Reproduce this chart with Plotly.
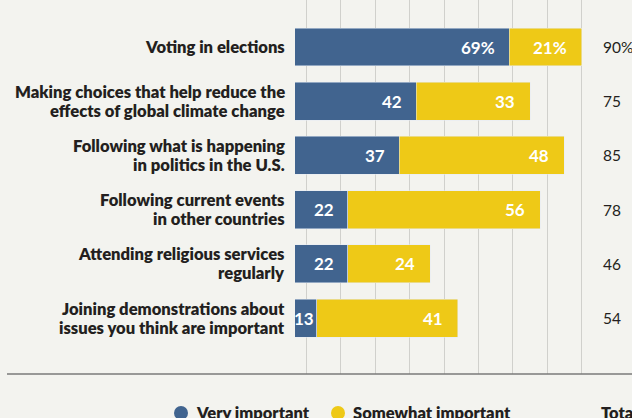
import plotly.graph_objects as go

categories = [
    "Voting in elections",
    "Making choices that help reduce the<br>effects of global climate change",
    "Following what is happening<br>in politics in the U.S.",
    "Following current events<br>in other countries",
    "Attending religious services<br>regularly",
    "Joining demonstrations about<br>issues you think are important",
]
very_important = [69, 42, 37, 22, 22, 13]
somewhat_important = [21, 33, 48, 56, 24, 41]
totals = [90, 75, 85, 78, 46, 54]
grid_ticks = [10, 20, 30, 40, 50, 60, 70, 80, 90]
series_names = ["Very important", "Somewhat important"]

BLUE = "#41648f"
YELLOW = "#eec917"
BG = "#f3f3ef"
TEXT = "#231f20"
FONT = "Lato"

ypos = list(range(len(categories)))
PLOT_L, PLOT_W, PLOT_H = 295, 337, 374
LINE_GAP = 19


def px_x(px):
    return (px - PLOT_L) / PLOT_W


def px_y(py):
    return (PLOT_H - py) / PLOT_H


fig = go.Figure()
fig.add_trace(go.Bar(y=ypos, x=very_important, orientation="h", marker_color=BLUE,
                     width=0.7, name=series_names[0], showlegend=False, hoverinfo="skip"))
fig.add_trace(go.Bar(y=ypos, x=somewhat_important, orientation="h", marker_color=YELLOW,
                     width=0.7, name=series_names[1], showlegend=False, hoverinfo="skip"))

ann = []
for i, (v, s, t) in enumerate(zip(very_important, somewhat_important, totals)):
    suffix = "%" if i == 0 else ""
    ann.append(dict(x=v, y=i, xref="x", yref="y", text=f"<b>{v}{suffix}</b>",
                    xanchor="right", yanchor="middle", showarrow=False,
                    xshift=-12 if v > 15 else -1,
                    font=dict(family=FONT, size=17, color="white")))
    ann.append(dict(x=v + s, y=i, xref="x", yref="y", text=f"<b>{s}{suffix}</b>",
                    xanchor="right", yanchor="middle", showarrow=False,
                    xshift=-13 if s > 15 else -1,
                    font=dict(family=FONT, size=17, color="white")))
    ann.append(dict(x=px_x(601), y=i, xref="paper", yref="y", text=f"{t}{suffix}",
                    xanchor="left", yanchor="middle", showarrow=False,
                    font=dict(family=FONT, size=15.5, color=TEXT)))
    lines = categories[i].split("<br>")
    for k, line in enumerate(lines):
        offset = (len(lines) - 1) / 2 - k
        ann.append(dict(x=px_x(287), y=i, xref="paper", yref="y", text=line,
                        xanchor="right", yanchor="middle", showarrow=False,
                        yshift=offset * LINE_GAP,
                        font=dict(family=FONT, size=16.6, color=TEXT, weight=800)))

# legend (drawn manually so the plot area is not shrunk)
legend_y = px_y(413)
dots = []
for name, color, cx in zip(series_names, [BLUE, YELLOW], [181, 338]):
    dots.append(dict(type="circle", xref="paper", yref="paper", xsizemode="pixel", ysizemode="pixel",
                     xanchor=px_x(cx), yanchor=legend_y, x0=-7, x1=7, y0=-7, y1=7,
                     fillcolor=color, line=dict(width=0)))
    ann.append(dict(x=px_x(cx + 13), y=legend_y, xref="paper", yref="paper", text=name,
                    xanchor="left", yanchor="middle", showarrow=False,
                    font=dict(family=FONT, size=16.5, color=TEXT, weight=800)))
ann.append(dict(x=px_x(599), y=legend_y, xref="paper", yref="paper", text="Total",
                xanchor="left", yanchor="middle", showarrow=False,
                font=dict(family=FONT, size=16.5, color=TEXT, weight=800)))

fig.update_layout(
    width=632, height=418,
    margin=dict(l=PLOT_L, r=0, t=0, b=418 - PLOT_H),
    paper_bgcolor=BG, plot_bgcolor=BG,
    barmode="stack",
    annotations=ann,
    showlegend=False,
    shapes=[dict(type="line", xref="paper", yref="paper", x0=px_x(7), x1=1.0, y0=0, y1=0,
                 line=dict(color="#7a7a7a", width=1.5))] + dots,
    font=dict(family=FONT, color=TEXT),
)
fig.update_xaxes(range=[(295 - 272) / 3.44, (632 - 272) / 3.44], tickvals=grid_ticks,
                 showticklabels=False, showgrid=True, gridcolor="#d0d0cc", gridwidth=1,
                 zeroline=False, showline=False, fixedrange=True)
fig.update_yaxes(range=[6.03, -0.867], tickvals=ypos, showticklabels=False,
                 showgrid=False, zeroline=False, showline=False)

fig.write_html("out.html")
